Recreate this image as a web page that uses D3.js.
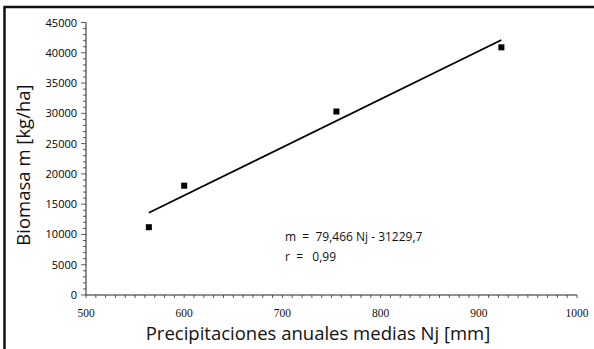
<!DOCTYPE html>
<html>
<head>
<meta charset="utf-8">
<script src="https://cdn.jsdelivr.net/npm/d3@7"></script>
<style>
  html, body { margin: 0; padding: 0; background: #fff; }
  svg { display: block; }
</style>
</head>
<body>
<svg id="chart" width="594" height="349"></svg>
<script>
// Observed sites: annual mean precipitation (mm) vs biomass (kg/ha)
const precip = [564, 600, 755, 923];
const biomass = [11200, 18050, 30300, 40900];

// Linear fit m = a·Nj + b
const slope = 79.466;
const intercept = -31229.7;
const rValue = "0,99";
const equationText = "m  =  79,466 Nj - 31229,7";

const yTicks = [0, 5000, 10000, 15000, 20000, 25000, 30000, 35000, 40000, 45000];
const xTicks = [500, 600, 700, 800, 900, 1000];

const xTitle = "Precipitaciones anuales medias Nj [mm]";
const yTitle = "Biomasa m [kg/ha]";

const svg = d3.select("#chart");

// Frame lines (top and left)
svg.append("line").attr("x1", 4).attr("x2", 594).attr("y1", 7).attr("y2", 7)
  .attr("stroke", "#111").attr("stroke-width", 2.5);
svg.append("line").attr("x1", 4.5).attr("x2", 4.5).attr("y1", 6).attr("y2", 349)
  .attr("stroke", "#111").attr("stroke-width", 2.5);

const x = d3.scaleLinear().domain([500, 1000]).range([86, 577]);
const y = d3.scaleLinear().domain([0, 45000]).range([295, 22.5]);

// Y axis: majors every 5000 with minor ticks every 1000
const yAxisG = svg.append("g").attr("transform", `translate(${x(500)},0)`);
yAxisG.append("line").attr("x1", 0).attr("x2", 0).attr("y1", y(0)).attr("y2", y(45000))
  .attr("stroke", "#222").attr("stroke-width", 1);
yAxisG.selectAll("line.minor").data(d3.range(0, 45001, 1000)).join("line")
  .attr("class", "minor")
  .attr("x1", d => d % 5000 === 0 ? -5 : -3).attr("x2", 0)
  .attr("y1", d => y(d)).attr("y2", d => y(d))
  .attr("stroke", "#333").attr("stroke-width", 0.8);
yAxisG.selectAll("text").data(yTicks).join("text")
  .attr("x", -9).attr("y", d => y(d) + 4)
  .attr("text-anchor", "end")
  .attr("font-family", "'Open Sans', sans-serif").attr("font-size", 11)
  .attr("fill", "#000")
  .text(d => d);

// X axis: minor ticks every 10 mm
const xAxisG = svg.append("g").attr("transform", `translate(0,${y(0)})`);
xAxisG.append("line").attr("x1", x(500)).attr("x2", x(1000)).attr("y1", 0).attr("y2", 0)
  .attr("stroke", "#222").attr("stroke-width", 1);
xAxisG.selectAll("line.minor").data(d3.range(500, 1001, 10)).join("line")
  .attr("class", "minor")
  .attr("x1", d => x(d)).attr("x2", d => x(d))
  .attr("y1", 0).attr("y2", 3)
  .attr("stroke", "#333").attr("stroke-width", 0.8);
xAxisG.selectAll("text").data(xTicks).join("text")
  .attr("x", d => x(d)).attr("y", 22)
  .attr("text-anchor", "middle")
  .attr("font-family", "'Liberation Serif', serif").attr("font-size", 11.5)
  .attr("fill", "#111")
  .text(d => d);

// Regression line across the observed precipitation range
const xMin = d3.min(precip), xMax = d3.max(precip);
const fit = [xMin, xMax].map(v => [v, slope * v + intercept]);
svg.append("path")
  .datum(fit)
  .attr("d", d3.line().x(d => x(d[0])).y(d => y(d[1])))
  .attr("stroke", "#000").attr("stroke-width", 1.8).attr("fill", "none");

// Data points
const pts = precip.map((p, i) => ({ p, m: biomass[i] }));
svg.selectAll("rect.pt").data(pts).join("rect")
  .attr("class", "pt")
  .attr("x", d => x(d.p) - 3).attr("y", d => y(d.m) - 3)
  .attr("width", 6).attr("height", 6)
  .attr("fill", "#000");

// Equation annotation
const ann = svg.append("g").attr("font-family", "'Open Sans', sans-serif")
  .attr("font-size", 12).attr("fill", "#111");
ann.append("text").attr("x", 285).attr("y", 241).attr("xml:space", "preserve").text(equationText);
ann.append("text").attr("x", 285).attr("y", 261).attr("xml:space", "preserve").text("r  =   " + rValue);

// Axis titles
svg.append("text")
  .attr("x", 318).attr("y", 340)
  .attr("text-anchor", "middle")
  .attr("font-family", "'Open Sans', sans-serif").attr("font-size", 18.5)
  .attr("fill", "#111")
  .text(xTitle);

svg.append("text")
  .attr("transform", "translate(30,165) rotate(-90)")
  .attr("text-anchor", "middle")
  .attr("font-family", "'Open Sans', sans-serif").attr("font-size", 18.5)
  .attr("fill", "#111")
  .text(yTitle);
</script>
</body>
</html>
